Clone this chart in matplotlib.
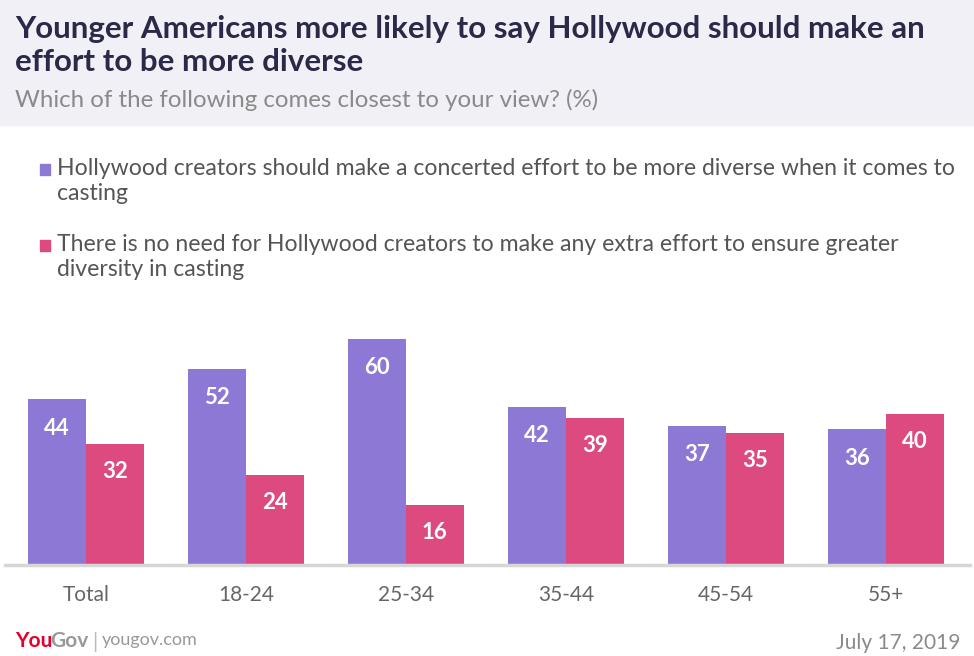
import matplotlib.pyplot as plt
import numpy as np
from matplotlib.patches import Rectangle

categories = ["Total", "18-24", "25-34", "35-44", "45-54", "55+"]
diverse = [44, 52, 60, 42, 37, 36]
no_need = [32, 24, 16, 39, 35, 40]
legend_labels = [
    "Hollywood creators should make a concerted effort to be more diverse when it comes to\ncasting",
    "There is no need for Hollywood creators to make any extra effort to ensure greater\ndiversity in casting",
]

purple = "#8d78d6"
pink = "#dd4a80"

W, H = 974, 656
fig = plt.figure(figsize=(W / 100, H / 100), dpi=100)
plt.rcParams['font.family'] = ['Lato', 'DejaVu Sans']

def fy(py):
    return 1 - py / H

# header box
fig.patches.append(Rectangle((0, fy(125)), 1, 125 / H, transform=fig.transFigure,
                             color="#f0f0f6", zorder=0))
fig.text(15 / W, fy(38), "Younger Americans more likely to say Hollywood should make an",
         fontsize=22.5, fontweight="bold", color="#2b2948", va="baseline")
fig.text(15 / W, fy(71), "effort to be more diverse",
         fontsize=22.5, fontweight="bold", color="#2b2948", va="baseline")
fig.text(15 / W, fy(107), "Which of the following comes closest to your view? (%)",
         fontsize=17.3, color="#8a8a8a", va="baseline")

# legend
for i, (lab, col) in enumerate(zip(legend_labels, [purple, pink])):
    ytop = 158 + i * 76
    fig.patches.append(Rectangle((40 / W, fy(ytop + 17)), 10 / W, 11 / H,
                                 transform=fig.transFigure, color=col))
    fig.text(57 / W, fy(ytop), lab, fontsize=16.6, color="#555555",
             va="top", linespacing=1.25)

# bars
ax = fig.add_axes([0, 1 - 565 / H, 1, 265 / H])
x = np.arange(len(categories))
bw = 0.36
ax.bar(x - bw / 2, diverse, bw, color=purple)
ax.bar(x + bw / 2, no_need, bw, color=pink)
for xi, v in zip(x, diverse):
    ax.text(xi - bw / 2, v - 7.7, str(v), ha="center", va="center", color="white",
            fontsize=16, fontweight="bold")
for xi, v in zip(x, no_need):
    ax.text(xi + bw / 2, v - 7.3, str(v), ha="center", va="center", color="white",
            fontsize=16, fontweight="bold")
ax.set_xlim(-86 / 160, (W - 86) / 160)
ax.set_ylim(0, 265 / 3.77)
ax.axhline(0, xmin=5 / W, xmax=970 / W, color="#d6d6d6", lw=2.5, clip_on=False)
ax.axis("off")
for xi, c in zip(x, categories):
    ax.annotate(c, (xi, 0), xytext=(0, -30), textcoords="offset pixels", ha="center",
                va="center", fontsize=15, color="#666666")

# footer
fig.text(15 / W, fy(647), "You", fontsize=15, fontweight="bold", color="#e4002b", va="baseline")
fig.text(50 / W, fy(647), "Gov", fontsize=15, fontweight="bold", color="#999999", va="baseline")
fig.text(92 / W, fy(648), "|", fontsize=15, color="#bbbbbb", va="baseline")
fig.text(102 / W, fy(645), "yougov.com", fontsize=13, color="#999999", va="baseline")
fig.text(960 / W, fy(649), "July 17, 2019", fontsize=15, color="#8a8a8a",
         va="baseline", ha="right")

fig.savefig("out.png", dpi=100)
